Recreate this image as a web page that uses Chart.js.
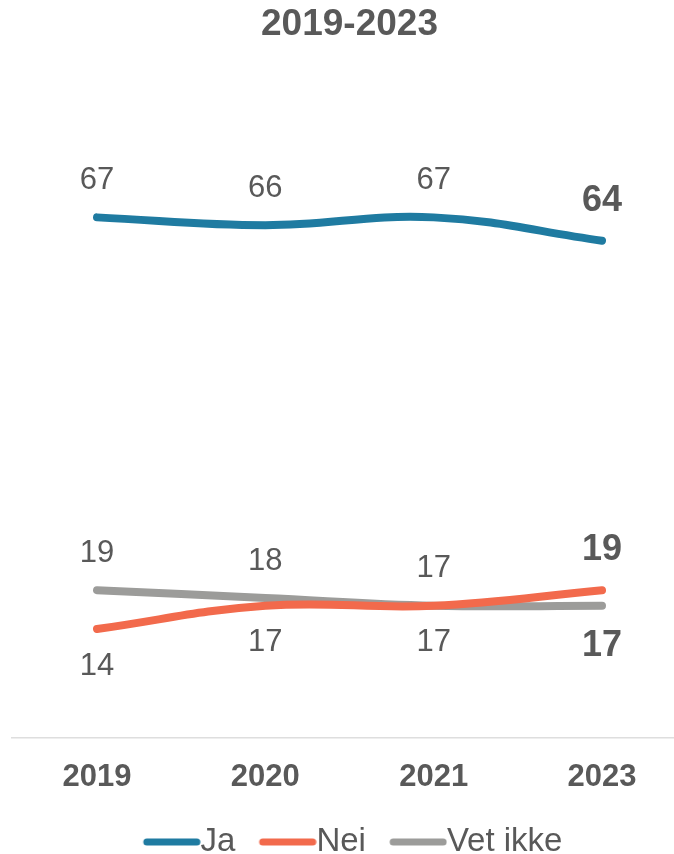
<!DOCTYPE html>
<html>
<head>
<meta charset="utf-8">
<script src="https://cdn.jsdelivr.net/npm/chart.js@4.4.1/dist/chart.umd.min.js"></script>
<style>
  html, body { margin: 0; padding: 0; background: #fff; }
  #wrap { width: 674px; height: 854px; }
</style>
</head>
<body>
<div id="wrap"><canvas id="chart"></canvas></div>
<script>
// values
const years = ['2019', '2020', '2021', '2023'];
const ja = [67, 66, 67, 64];
const nei = [14, 17, 17, 19];
const vetIkke = [19, 18, 17, 17];

// where each value label sits relative to its point
const jaPlace = ['above', 'above', 'above', 'above'];
const neiPlace = ['below', 'below', 'below', 'above'];
const vetIkkePlace = ['above', 'above', 'above', 'below'];

const textColor = '#595959';
const fontFamily = '"Liberation Sans", Arial, sans-serif';

const legendFontSize = 33;
const legendGap = 6;      // blank space before each legend line
const legendLine = 58;    // visible legend line length
const legendBox = legendGap + legendLine - legendFontSize / 2;

// legend symbol: a thick rounded line pushed to the right end of the box
function legendSymbol(color) {
    let c = document.createElement('canvas');
    c.width = Math.round(legendBox + legendFontSize);
    c.height = 12;
    let g = c.getContext('2d');
    g.strokeStyle = color;
    g.lineWidth = 7;
    g.lineCap = 'round';
    g.beginPath();
    g.moveTo(c.width - legendLine + 4, 6);
    g.lineTo(c.width - 4, 6);
    g.stroke();
    return c;
}

// draws the number next to every point
const valueLabels = {
    id: 'valueLabels',
    afterDatasetsDraw(chart) {
        let ctx = chart.ctx;
        ctx.save();
        ctx.fillStyle = textColor;
        ctx.textAlign = 'center';
        ctx.textBaseline = 'middle';
        chart.data.datasets.forEach((ds, d) => {
            let meta = chart.getDatasetMeta(d);
            meta.data.forEach((pt, i) => {
                let last = i === ds.data.length - 1;
                ctx.font = last ? 'bold 36px ' + fontFamily : '31px ' + fontFamily;
                let dy = last ? 40 : 37;
                let y = ds.place[i] === 'above' ? pt.y - dy : pt.y + dy;
                ctx.fillText(String(ds.data[i]), pt.x, y);
            });
        });
        ctx.restore();
    }
};

// light base line running almost the full width
const baseLine = {
    id: 'baseLine',
    beforeDatasetsDraw(chart) {
        let ctx = chart.ctx;
        let y = chart.scales.y.getPixelForValue(0);
        ctx.save();
        ctx.strokeStyle = '#dedede';
        ctx.lineWidth = 1.5;
        ctx.beginPath();
        ctx.moveTo(11, y);
        ctx.lineTo(chart.width, y);
        ctx.stroke();
        ctx.restore();
    }
};

let ctx = document.getElementById('chart').getContext('2d');
new Chart(ctx, {
    type: 'line',
    data: {
        labels: years,
        datasets: [
            { label: 'Ja', data: ja, place: jaPlace, borderColor: '#1f7ba1' },
            { label: 'Nei', data: nei, place: neiPlace, borderColor: '#f26a4c' },
            { label: 'Vet ikke', data: vetIkke, place: vetIkkePlace, borderColor: '#9c9c9a' }
        ]
    },
    options: {
        responsive: true,
        maintainAspectRatio: false,
        animation: false,
        // negative bottom padding eats the legend's built-in spare space
        layout: { padding: { left: 97, right: 72, top: 0, bottom: -14.5 } },
        elements: {
            line: { borderWidth: 8, tension: 0.4, borderCapStyle: 'round', fill: false },
            point: { radius: 0, hoverRadius: 0 }
        },
        scales: {
            x: {
                offset: false,
                grid: { display: false, drawTicks: false },
                border: { display: false },
                ticks: {
                    color: textColor,
                    padding: 21,
                    font: { family: fontFamily, size: 31, weight: 'bold' }
                },
                afterFit(scale) { scale.height -= 8.5; }
            },
            y: {
                display: false,
                min: 0,
                max: 80
            }
        },
        plugins: {
            title: {
                display: true,
                text: '2019-2023',
                color: textColor,
                font: { family: fontFamily, size: 37, weight: 'bold' },
                padding: { top: 3, bottom: 69 }
            },
            legend: {
                position: 'bottom',
                labels: {
                    color: textColor,
                    font: { family: fontFamily, size: legendFontSize, lineHeight: 1 },
                    usePointStyle: true,
                    pointStyleWidth: legendBox,
                    padding: 17,
                    generateLabels(chart) {
                        let items = Chart.defaults.plugins.legend.labels.generateLabels(chart);
                        items.forEach(it => {
                            it.pointStyle = legendSymbol(chart.data.datasets[it.datasetIndex].borderColor);
                        });
                        return items;
                    }
                }
            },
            tooltip: { enabled: false }
        }
    },
    plugins: [baseLine, valueLabels]
});
</script>
</body>
</html>
